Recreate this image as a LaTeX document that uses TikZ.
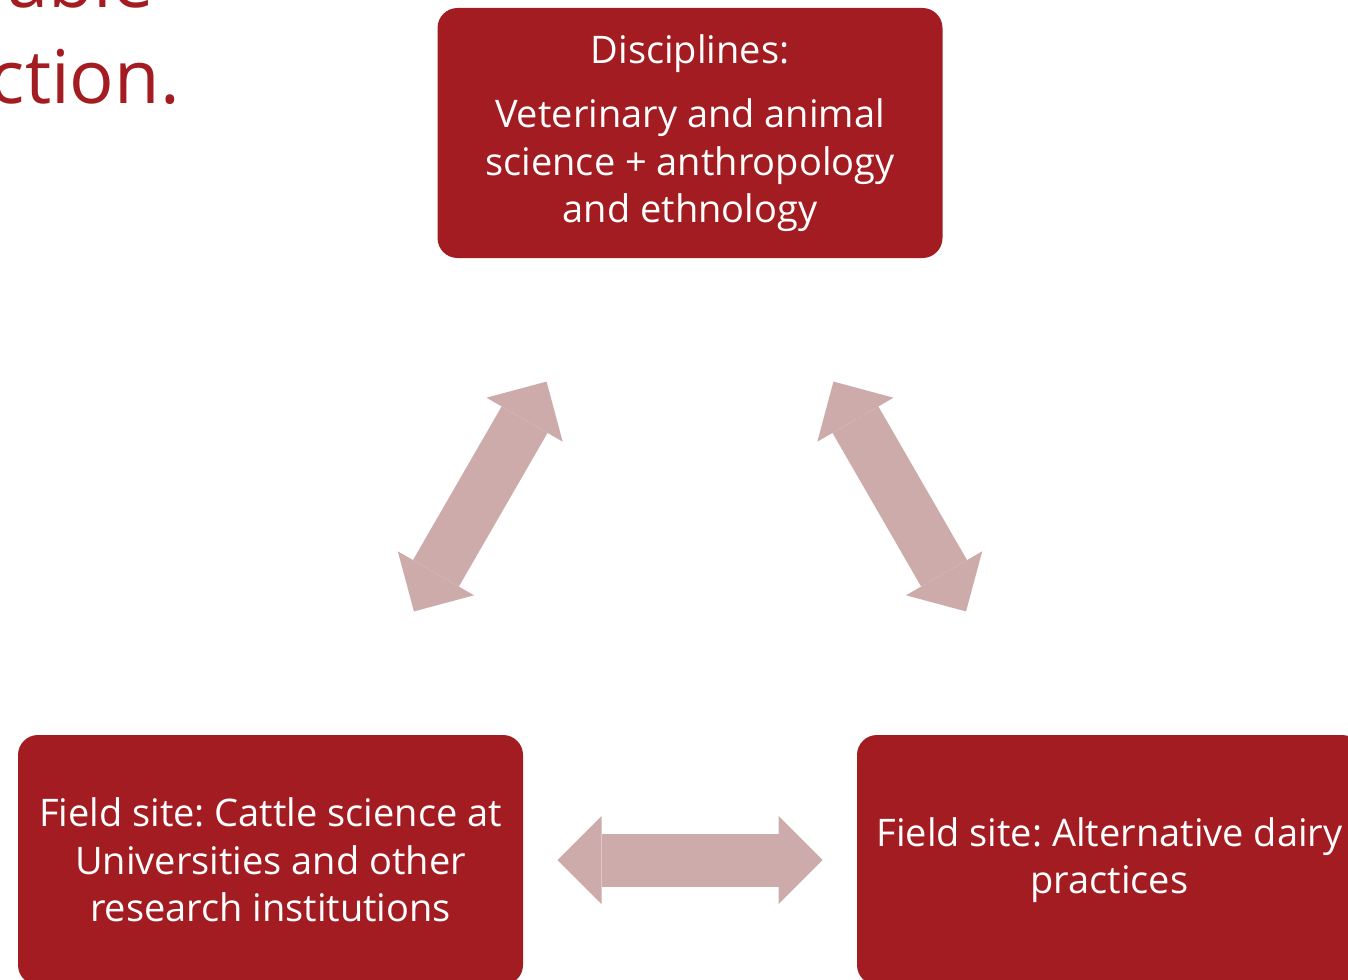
\documentclass[tikz,border=0pt]{standalone}
\usepackage{fontspec}
\setmainfont{Open Sans}
\usetikzlibrary{arrows.meta}

\definecolor{boxred}{RGB}{163,28,33}
\definecolor{linkpink}{RGB}{206,171,171}

\begin{document}
\frenchspacing
\begin{tikzpicture}[x=1pt,y=-1pt,
    field/.style={fill=boxred, rounded corners=20pt, minimum width=505pt,
      minimum height=250pt, inner sep=0pt, text=white, align=center,
      font=\fontsize{38}{47.5}\selectfont},
    link/.style={draw=linkpink, line width=53pt,
      {Triangle[width=88pt,length=44pt,line width=0pt]}-{Triangle[width=88pt,length=44pt,line width=0pt]},
      shorten <=287pt, shorten >=287pt},
    title/.style={text=boxred, anchor=base east, inner sep=0pt,
      font=\fontsize{74}{96}\selectfont}]
  \useasboundingbox (0,0) rectangle (1348,979);
  \clip (0,0) rectangle (1348,979);

  % slide title, cut off by the frame
  \node[title] (tline1) at (154,8) {able};
  \node[title] (tline2) at (180,104) {ction.};

  % the three boxes
  \node[field] (disc) at (690,133)
    {Disciplines:\\[17pt]Veterinary and animal\\science + anthropology\\and ethnology};
  \node[field] (cattle) at (270.5,860)
    {Field site: Cattle science at\\Universities and other\\research institutions};
  \node[field] (dairy) at (1109.5,860)
    {Field site: Alternative dairy\\practices};

  % two-way links
  \draw[link] (disc.center) -- (cattle.center);
  \draw[link] (disc.center) -- (dairy.center);
  \draw[link] (cattle.center) -- (dairy.center);
\end{tikzpicture}
\end{document}
